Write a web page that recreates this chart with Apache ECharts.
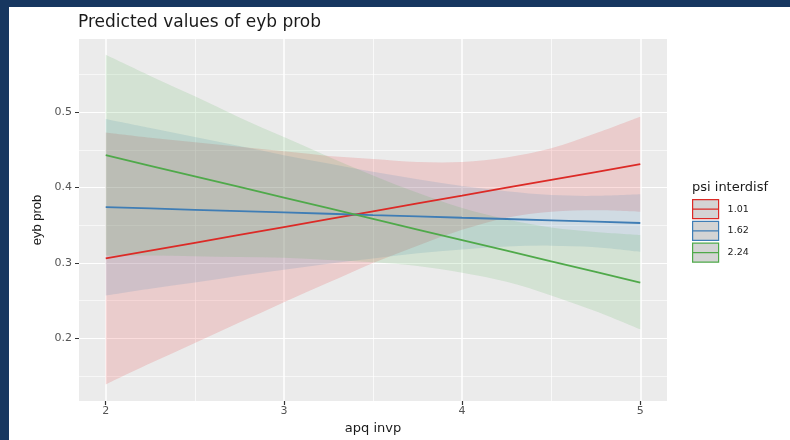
<!DOCTYPE html>
<html><head><meta charset="utf-8">
<script src="https://cdn.jsdelivr.net/npm/echarts@6/dist/echarts.min.js"></script>
<style>html,body{margin:0;padding:0;background:#fff}#c{width:790px;height:440px}</style>
</head><body><div id="c"></div>
<script>
// ---- data ----
const xs = [2, 2.25, 2.5, 2.75, 3, 3.25, 3.5, 3.75, 4, 4.25, 4.5, 4.75, 5];
const groups = ['1.01', '1.62', '2.24'];

const redFit  = [0.3060, 0.3164, 0.3268, 0.3373, 0.3477, 0.3581, 0.3685, 0.3789, 0.3893, 0.3998, 0.4102, 0.4206, 0.4310];
const redLow  = [0.139, 0.167, 0.194, 0.221, 0.248, 0.274, 0.300, 0.323, 0.344, 0.360, 0.368, 0.370, 0.368];
const redHigh = [0.473, 0.466, 0.460, 0.454, 0.448, 0.442, 0.438, 0.434, 0.434, 0.440, 0.452, 0.472, 0.494];

const blueFit  = [0.3740, 0.3723, 0.3705, 0.3688, 0.3670, 0.3653, 0.3635, 0.3618, 0.3600, 0.3583, 0.3565, 0.3548, 0.3530];
const blueLow  = [0.257, 0.266, 0.274, 0.283, 0.291, 0.299, 0.306, 0.313, 0.318, 0.322, 0.323, 0.321, 0.315];
const blueHigh = [0.491, 0.479, 0.467, 0.455, 0.443, 0.432, 0.421, 0.411, 0.402, 0.395, 0.390, 0.389, 0.391];

const greenFit  = [0.4430, 0.4289, 0.4148, 0.4008, 0.3867, 0.3726, 0.3585, 0.3444, 0.3303, 0.3163, 0.3022, 0.2881, 0.2740];
const greenLow  = [0.310, 0.310, 0.309, 0.308, 0.307, 0.304, 0.301, 0.296, 0.287, 0.275, 0.257, 0.236, 0.212];
const greenHigh = [0.576, 0.548, 0.521, 0.493, 0.467, 0.441, 0.416, 0.393, 0.373, 0.358, 0.347, 0.341, 0.337];

const xTicks = [2, 3, 4, 5];
const xMinor = [2.5, 3.5, 4.5];
const yTicks = [0.2, 0.3, 0.4, 0.5];
const yMinor = [0.15, 0.25, 0.35, 0.45, 0.55];

// ---- styling ----
const colors = ['#DC2A26', '#3F7DB5', '#4FA94A'];
const bandFills = ['rgba(228,26,28,0.15)', 'rgba(55,126,184,0.15)', 'rgba(77,175,74,0.15)'];
const fits = [redFit, blueFit, greenFit];
const lows = [redLow, blueLow, greenLow];
const highs = [redHigh, blueHigh, greenHigh];
const HFONT = 'DejaVu Sans';

// smooth path through pixel points (Catmull-Rom -> cubic Bezier)
function smoothSegs(pts) {
  let d = '';
  for (let i = 0; i < pts.length - 1; i++) {
    const p0 = pts[Math.max(i - 1, 0)], p1 = pts[i], p2 = pts[i + 1], p3 = pts[Math.min(i + 2, pts.length - 1)];
    const c1 = [p1[0] + (p2[0] - p0[0]) / 6, p1[1] + (p2[1] - p0[1]) / 6];
    const c2 = [p2[0] - (p3[0] - p1[0]) / 6, p2[1] - (p3[1] - p1[1]) / 6];
    d += ' C' + c1[0] + ',' + c1[1] + ' ' + c2[0] + ',' + c2[1] + ' ' + p2[0] + ',' + p2[1];
  }
  return d;
}
function bandRender(lo, hi, fill) {
  return function (params, api) {
    if (params.dataIndex !== 0) return null;
    const up = xs.map((x, i) => api.coord([x, hi[i]]));
    const dn = xs.map((x, i) => api.coord([x, lo[i]])).reverse();
    const d = 'M' + up[0][0] + ',' + up[0][1] + smoothSegs(up) +
      ' L' + dn[0][0] + ',' + dn[0][1] + smoothSegs(dn) + ' Z';
    return { type: 'path', shape: { pathData: d }, style: { fill: fill, stroke: null } };
  };
}

const series = [];
// grid lines via markLine on an empty helper series
series.push({
  type: 'line', name: 'grid', data: [], silent: true, z: 1,
  markLine: {
    silent: true, symbol: 'none', z: 1, animation: false,
    label: { show: false }, emphasis: { disabled: true },
    data: [].concat(
      xMinor.map(v => ({ xAxis: v, lineStyle: { color: '#ffffff', width: 0.7, type: 'solid' } })),
      yMinor.map(v => ({ yAxis: v, lineStyle: { color: '#ffffff', width: 0.6, type: 'solid' } })),
      xTicks.map(v => ({ xAxis: v, lineStyle: { color: '#ffffff', width: 1.5, type: 'solid' } })),
      yTicks.map(v => ({ yAxis: v, lineStyle: { color: '#ffffff', width: 1.2, type: 'solid' } }))
    )
  }
});
groups.forEach((g, i) => {
  series.push({
    type: 'custom', name: g, z: 2, silent: true,
    renderItem: bandRender(lows[i], highs[i], bandFills[i]),
    encode: { x: 0, y: [1, 2] },
    itemStyle: { color: colors[i] },
    data: xs.map((x, k) => [x, lows[i][k], highs[i][k]])
  });
});
groups.forEach((g, i) => {
  series.push({
    type: 'line', name: 'fit ' + g, z: 3, silent: true,
    showSymbol: false, symbol: 'none',
    lineStyle: { color: colors[i], width: 1.8 },
    data: xs.map((x, k) => [x, fits[i][k]])
  });
});

const chart = echarts.init(document.getElementById('c'), null, { renderer: 'canvas' });
chart.setOption({
  animation: false,
  backgroundColor: '#ffffff',
  title: [
    { text: 'Predicted values of eyb prob', left: 78, top: 14, padding: 0,
      textStyle: { fontFamily: HFONT, fontSize: 17, fontWeight: 'normal', color: '#1a1a1a' } },
    { text: 'psi interdisf', left: 692, top: 181, padding: 0,
      textStyle: { fontFamily: HFONT, fontSize: 13, fontWeight: 'normal', color: '#1a1a1a' } }
  ],
  graphic: [
    { type: 'rect', silent: true, z: 100, shape: { x: 0, y: 0, width: 790, height: 7 }, style: { fill: '#173760' } },
    { type: 'rect', silent: true, z: 100, shape: { x: 0, y: 0, width: 9, height: 440 }, style: { fill: '#173760' } }
  ],
  grid: { left: 79, right: 123, top: 39, bottom: 39, show: true, backgroundColor: '#ebebeb', borderWidth: 0, containLabel: false },
  legend: {
    orient: 'vertical', left: 692, top: 199, itemWidth: 26, itemHeight: 19, itemGap: 1.6, padding: 0,
    selectedMode: false,
    textStyle: { fontFamily: HFONT, fontSize: 9.5, color: '#1a1a1a', padding: [0, 0, 0, 4] },
    data: groups.map((g, i) => ({
      name: g,
      icon: 'path://M0,0L26,0L26,19L0,19Z M0,9.5L26,9.5',
      itemStyle: { color: '#d4d4d4', borderColor: colors[i], borderWidth: 1.2, opacity: 1 }
    }))
  },
  xAxis: {
    type: 'value', min: 1.85, max: 5.15,
    name: 'apq invp', nameLocation: 'middle', nameGap: 19,
    nameTextStyle: { fontFamily: HFONT, fontSize: 13, color: '#1a1a1a' },
    axisLine: { show: false },
    axisTick: { show: true, customValues: xTicks, length: 4, lineStyle: { color: '#333333', width: 1.2 } },
    axisLabel: { customValues: xTicks, margin: 5, fontFamily: HFONT, fontSize: 11, color: '#555555' },
    splitLine: { show: false }
  },
  yAxis: {
    type: 'value', min: 0.117, max: 0.597,
    name: 'eyb prob', nameLocation: 'middle', nameGap: 33, nameRotate: 90,
    nameTextStyle: { fontFamily: 'Liberation Sans', fontSize: 13, color: '#1a1a1a' },
    axisLine: { show: false },
    axisTick: { show: true, customValues: yTicks, length: 4, lineStyle: { color: '#333333', width: 1 } },
    axisLabel: { customValues: yTicks, margin: 7, fontFamily: HFONT, fontSize: 11, color: '#555555',
      formatter: v => v.toFixed(1) },
    splitLine: { show: false }
  },
  tooltip: { show: false },
  series: series
});
</script></body></html>
